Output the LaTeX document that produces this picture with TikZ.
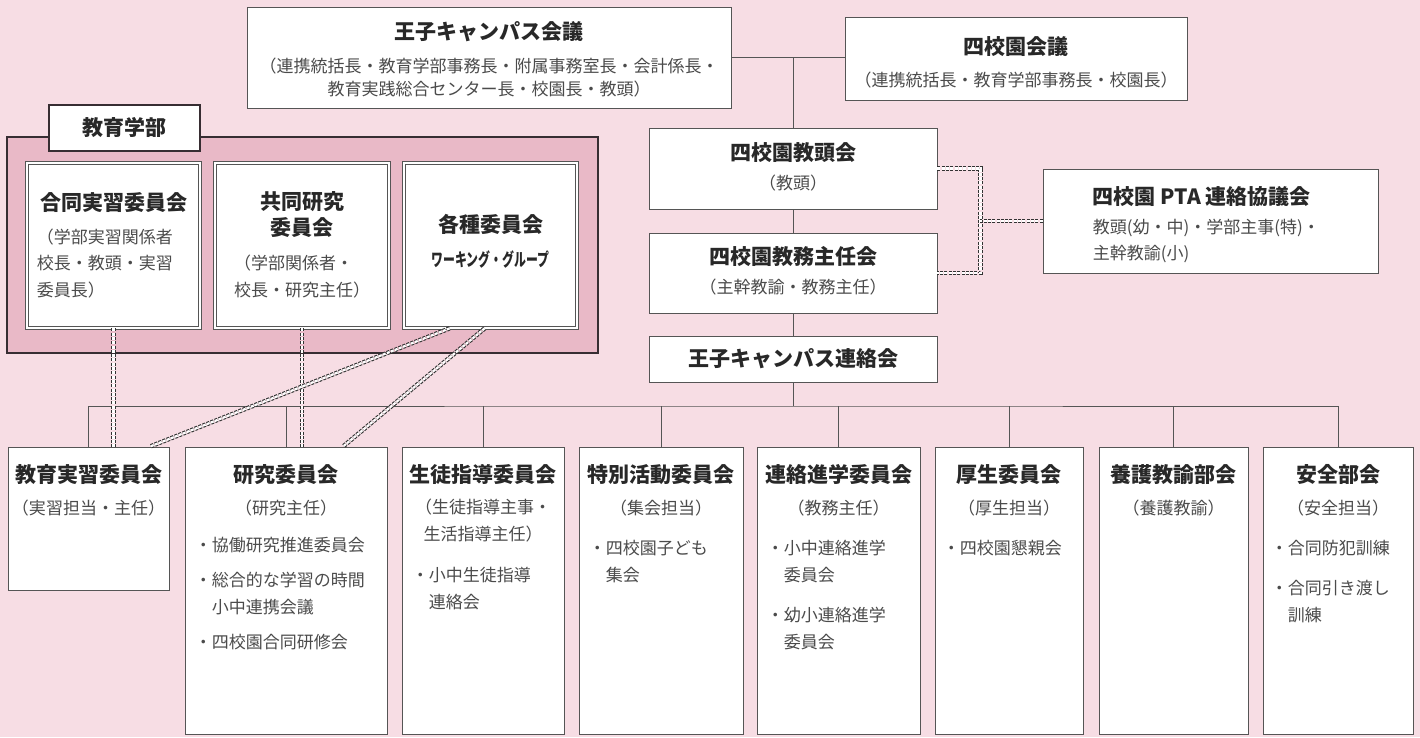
\documentclass[tikz,border=0pt]{standalone}
\usepackage{fontspec}
\setmainfont{Noto Sans CJK JP}
\definecolor{bgpink}{RGB}{247,221,228}
\definecolor{deeppink}{RGB}{233,185,199}
\definecolor{linegray}{RGB}{85,85,85}
\definecolor{framegray}{RGB}{55,45,50}
\definecolor{ttlgray}{RGB}{40,40,40}
\definecolor{subgray}{RGB}{75,75,75}
\newcommand\ttlfont{\fontsize{21pt}{26pt}\selectfont\bfseries}
\newcommand\txtfont{\fontsize{17pt}{23pt}\selectfont}
\newcommand\itemfont{\fontsize{17pt}{27pt}\selectfont}
\tikzset{
  box/.style={draw=linegray, fill=white, line width=0.9pt, inner sep=0pt},
  dblbox/.style={box, line width=0.7pt, double=white, double distance=2.2pt},
  bigbox/.style={box, minimum height=287pt},
  line/.style={draw=linegray, line width=0.9pt},
  dbl/.style={draw=black!80, line width=1.1pt, double=white, double distance=2.2pt, dash pattern=on 3pt off 1.3pt},
  ttl/.style={font=\ttlfont, text=ttlgray, inner sep=0pt, align=center},
  subt/.style={font=\txtfont, text=subgray, inner sep=0pt, align=center},
  items/.style={font=\itemfont, text=subgray, inner sep=0pt, align=left, anchor=north west}
}
\begin{document}
\begin{tikzpicture}[x=1pt, y=-1pt]
\fill[bgpink] (0,0) rectangle (1420,737);
\useasboundingbox (0,0) rectangle (1420,737);

% top
\node[box, minimum width=484pt, minimum height=101pt] (kaigi) at (489,57.5) {};
\node[ttl] (kaigit) at ([yshift=-25pt]kaigi.north) {王子キャンパス会議};
\node[subt] (kaigis) at ([yshift=-71pt]kaigi.north) {（連携統括長・教育学部事務長・附属事務室長・会計係長・\\教育実践総合センター長・校園長・教頭）};
\node[box, minimum width=342pt, minimum height=83pt] (shikoen) at (1016,58.5) {};
\node[ttl] (shikoent) at ([yshift=-30pt]shikoen.north) {四校園会議};
\node[subt] (shikoens) at ([yshift=-63pt]shikoen.north) {（連携統括長・教育学部事務長・校園長）};

% middle column
\node[box, minimum width=288pt, minimum height=81pt] (kyoto) at (793,168.5) {};
\node[ttl] (kyotot) at ([yshift=-25pt]kyoto.north) {四校園教頭会};
\node[subt] (kyotos) at ([yshift=-55pt]kyoto.north) {（教頭）};
\node[box, minimum width=288pt, minimum height=80pt] (kyomu) at (793,273) {};
\node[ttl] (kyomut) at ([yshift=-24pt]kyomu.north) {四校園教務主任会};
\node[subt] (kyomus) at ([yshift=-54pt]kyomu.north) {（主幹教諭・教務主任）};
\node[box, minimum width=288pt, minimum height=46pt, font=\ttlfont, text=ttlgray] (renraku) at (793,359) {王子キャンパス連絡会};

% PTA
\node[box, minimum width=335pt, minimum height=104pt] (pta) at (1210.5,221) {};
\node[ttl, anchor=west] (ptat) at ([xshift=50pt, yshift=24pt]pta.west) {四校園 PTA 連絡協議会};
\node[subt, align=left, anchor=west, font=\fontsize{17pt}{26pt}\selectfont] (ptas) at ([xshift=50pt, yshift=-20pt]pta.west) {教頭(幼・中)・学部主事(特)・\\主幹教諭(小)};

% education faculty
\node[box, draw=framegray, fill=deeppink, line width=2.4pt, minimum width=591pt, minimum height=216pt] (gakubu) at (302.5,245) {};
\node[box, draw=framegray, line width=2pt, minimum width=151pt, minimum height=46pt, font=\ttlfont, text=ttlgray] (gakubul) at (124.5,128) {教育学部};
\node[dblbox, minimum width=173pt, minimum height=165pt] (godo) at (113.5,245.5) {};
\node[ttl] (godot) at ([yshift=-40pt]godo.north) {合同実習委員会};
\node[subt, align=left, anchor=west, font=\fontsize{17pt}{26.5pt}\selectfont] (godos) at ([xshift=10pt, yshift=-18pt]godo.west) {（学部実習関係者\\校長・教頭・実習\\委員長）};
\node[dblbox, minimum width=174pt, minimum height=165pt] (kyodo) at (302,245.5) {};
\node[ttl] (kyodot) at ([yshift=-52pt]kyodo.north) {共同研究\\委員会};
\node[subt, align=left, font=\fontsize{17pt}{27pt}\selectfont] (kyodos) at ([yshift=-31pt]kyodo.center) {（学部関係者・\\校長・研究主任）};
\node[dblbox, minimum width=173pt, minimum height=165pt] (kakushu) at (490.5,245.5) {};
\node[ttl] (kakushut) at ([yshift=-62pt]kakushu.north) {各種委員会};
\node[ttl, font=\fontsize{18pt}{20pt}\selectfont\bfseries] (kakushuw) at ([yshift=-97pt]kakushu.north) {\scalebox{0.66}[1]{ワーキング・グループ}};

% bottom row
\node[box, minimum width=161pt, minimum height=143pt] (b1) at (88.5,518.5) {};
\node[bigbox, minimum width=202pt] (b2) at (286,590.5) {};
\node[bigbox, minimum width=162pt] (b3) at (483,590.5) {};
\node[bigbox, minimum width=164pt] (b4) at (661,590.5) {};
\node[bigbox, minimum width=163pt] (b5) at (838.5,590.5) {};
\node[bigbox, minimum width=148pt] (b6) at (1009,590.5) {};
\node[bigbox, minimum width=149pt] (b7) at (1173.5,590.5) {};
\node[bigbox, minimum width=150pt] (b8) at (1338,590.5) {};

\node[ttl] (b1t) at ([yshift=-28pt]b1.north) {教育実習委員会};
\node[subt] (b1s) at ([yshift=-61pt]b1.north) {（実習担当・主任）};
\node[ttl] (b2t) at ([yshift=-28pt]b2.north) {研究委員会};
\node[subt] (b2s) at ([yshift=-61pt]b2.north) {（研究主任）};
\node[items] (b2i) at ([xshift=10pt, yshift=-90pt]b2.north west) {・協働研究推進委員会\\[8pt]・総合的な学習の時間\\\hspace*{1em}小中連携会議\\[8pt]・四校園合同研修会};
\node[ttl] (b3t) at ([yshift=-28pt]b3.north) {生徒指導委員会};
\node[subt, font=\fontsize{17pt}{27pt}\selectfont] (b3s) at ([yshift=-74pt]b3.north) {（生徒指導主事・\\生活指導主任）};
\node[items] (b3i) at ([xshift=10pt, yshift=-120pt]b3.north west) {・小中生徒指導\\\hspace*{1em}連絡会};
\node[ttl] (b4t) at ([yshift=-28pt]b4.north) {特別活動委員会};
\node[subt] (b4s) at ([yshift=-61pt]b4.north) {（集会担当）};
\node[items] (b4i) at ([xshift=10pt, yshift=-93pt]b4.north west) {・四校園子ども\\\hspace*{1em}集会};
\node[ttl] (b5t) at ([yshift=-28pt]b5.north) {連絡進学委員会};
\node[subt] (b5s) at ([yshift=-61pt]b5.north) {（教務主任）};
\node[items] (b5i) at ([xshift=10pt, yshift=-93pt]b5.north west) {・小中連絡進学\\\hspace*{1em}委員会\\[13pt]・幼小連絡進学\\\hspace*{1em}委員会};
\node[ttl] (b6t) at ([yshift=-28pt]b6.north) {厚生委員会};
\node[subt] (b6s) at ([yshift=-61pt]b6.north) {（厚生担当）};
\node[items] (b6i) at ([xshift=8pt, yshift=-93pt]b6.north west) {・四校園懇親会};
\node[ttl] (b7t) at ([yshift=-28pt]b7.north) {養護教諭部会};
\node[subt] (b7s) at ([yshift=-61pt]b7.north) {（養護教諭）};
\node[ttl] (b8t) at ([yshift=-28pt]b8.north) {安全部会};
\node[subt] (b8s) at ([yshift=-61pt]b8.north) {（安全担当）};
\node[items] (b8i) at ([xshift=8pt, yshift=-93pt]b8.north west) {・合同防犯訓練\\[13pt]・合同引き渡し\\\hspace*{1em}訓練};

% solid connectors
\draw[line] (kaigi.east) -- (kaigi.east -| shikoen.west);
\draw[line] (kyoto.north) -- (kyoto.north |- kaigi.east);
\draw[line] (kyoto) edge (kyomu) (kyomu) edge (renraku);
\coordinate (bus) at (793,406);
\draw[line] (renraku) -- (bus);
\draw[line] (b1.north) |- (bus) -| (b8.north);
\draw[line] (b2.north) edge (b2.north |- bus)
            (b3.north) edge (b3.north |- bus)
            (b4.north) edge (b4.north |- bus)
            (b5.north) edge (b5.north |- bus)
            (b6.north) edge (b6.north |- bus)
            (b7.north) edge (b7.north |- bus);

% double dashed links
\draw[dbl] (godo.south) -- (godo.south |- b1.north);
\draw[dbl] (kyodo.south) -- (kyodo.south |- b2.north);
\draw[dbl] ([xshift=46pt]kakushu.south west) -- ([xshift=61.5pt]b1.north);
\draw[dbl] ([xshift=81pt]kakushu.south west) -- ([xshift=57pt]b2.north);
\draw[dbl] (kyoto.east) -- ++(43,0) coordinate (brk) |- (kyomu.east);
\draw[dbl] (pta.west) -- (pta.west -| brk);
\end{tikzpicture}
\end{document}
